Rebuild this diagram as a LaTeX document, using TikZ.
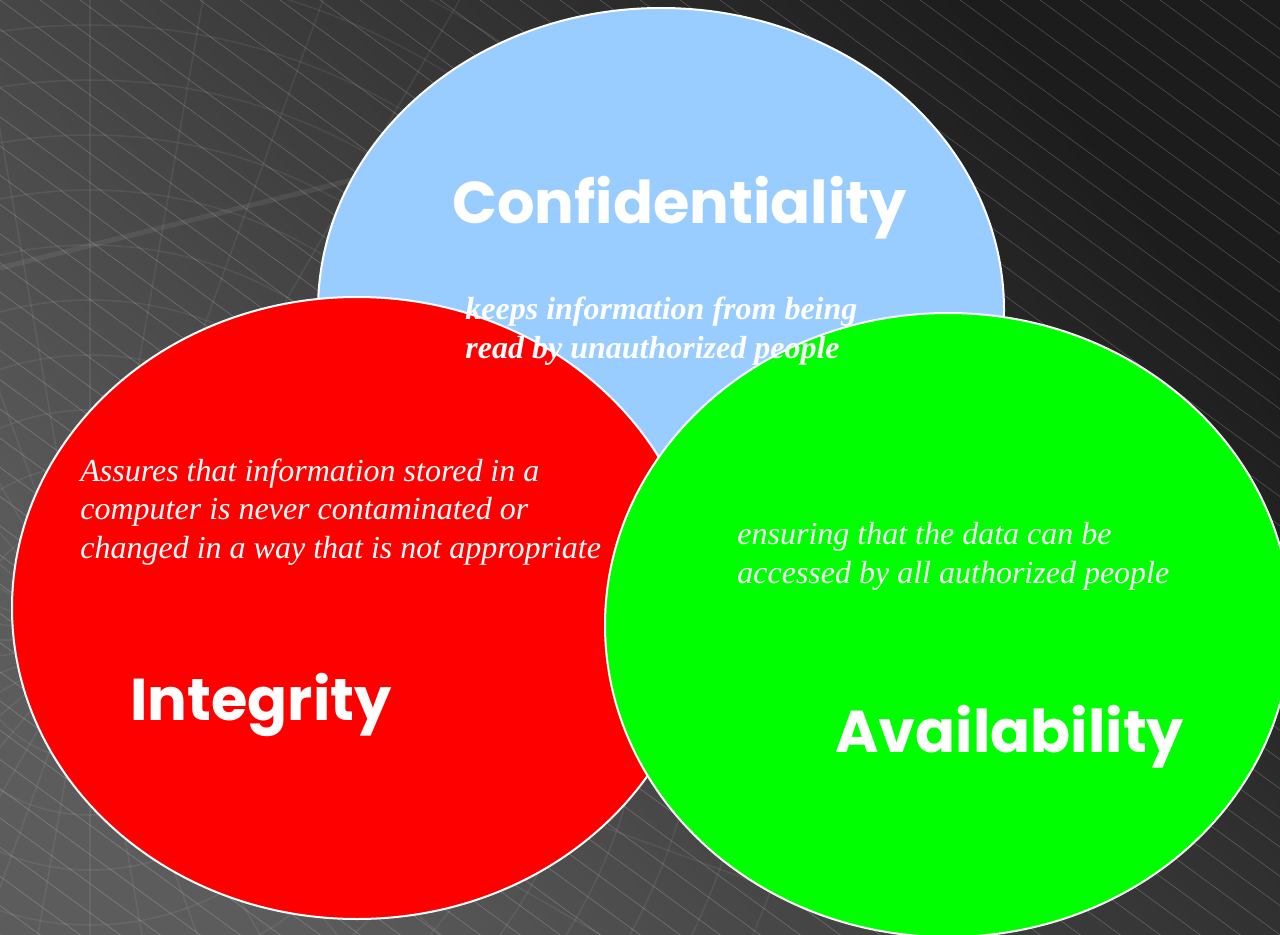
\documentclass[tikz,border=0pt]{standalone}
\usepackage{fontspec}
\setmainfont{Liberation Serif}
\newfontfamily\headfont{Poppins}
\usepackage{tikz}
\usetikzlibrary{shapes.geometric}

\definecolor{confblue}{HTML}{99CCFF}
\definecolor{integred}{HTML}{FF0000}
\definecolor{availgreen}{HTML}{00FF00}
\definecolor{bgdark}{HTML}{1C1C1C}
\definecolor{bglight}{HTML}{5C5C5C}

\begin{document}
\begin{tikzpicture}[
                x=0.5pt, y=0.5pt,
                blob/.style={ellipse, draw=white, line width=1pt, inner sep=0pt},
                heading/.style={font=\headfont\bfseries\fontsize{29.5}{34}\selectfont, text=white, inner sep=0pt, anchor=base west},
                blurb/.style={font=\itshape\fontsize{16}{19.25}\selectfont, text=white, inner sep=0pt, align=left, anchor=base west},
                hatch/.style={white, opacity=0.22, line width=0.3pt}
            ]
            \shade [shading=axis, bottom color=bglight, top color=bgdark, shading angle=-50] (0,0) rectangle (1280,934);
            \useasboundingbox (0,0) rectangle (1280,934);

            \begin{scope}
                \clip (0,0) rectangle (1280,934);
                % globe lines in the lower left
                \begin{scope}[white, opacity=0.07, line width=0.75pt]
                    \clip (90,294) circle (760);
                    \foreach \r in {120,175,...,900}
                        \draw (90,294) circle (\r);
                    \foreach \a in {0,10,...,350}
                        \draw (90,294) -- ++(\a:1100);
                    \draw [line width=2.5pt] (0,666) -- (360,756);
                \end{scope}
                \foreach \x in {-1320,-1280,...,1280}
                    \draw [hatch] (\x,934) -- ++(1320,-964);
            \end{scope}

            \node (conf) [blob, fill=confblue, minimum width=343pt, minimum height=302pt] at (661,624) {};
            \node (integ) [blob, fill=integred, minimum width=345pt, minimum height=311pt] at (357,326) {};
            \node (avail) [blob, fill=availgreen, minimum width=343pt, minimum height=312pt] at (948,309) {};

            \node (confhead) [heading] at (452,711) {Confidentiality};
            \node (integhead) [heading] at (130,214) {Integrity};
            \node (availhead) [heading] at (835,182) {Availability};

            % base anchor sits on the last line
            \node (conftext) [blurb, font=\bfseries\itshape\fontsize{16}{19.25}\selectfont] at (465,576)
                {keeps information from being\\read by unauthorized people};
            \node (integtext) [blurb] at (80,376)
                {Assures that information stored in a\\computer is never contaminated or\\changed in a way that is not appropriate};
            \node (availtext) [blurb] at (737,351)
                {ensuring that the data can be\\accessed by all authorized people};
\end{tikzpicture}
\end{document}
